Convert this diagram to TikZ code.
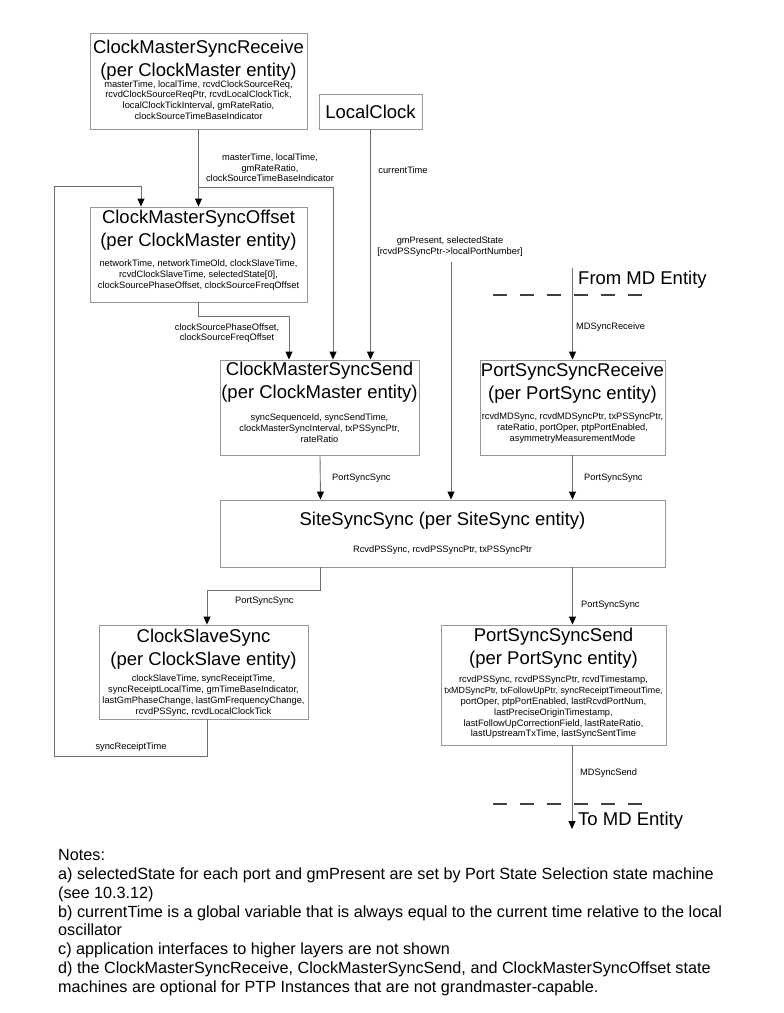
\documentclass[tikz,border=0pt]{standalone}
\usepackage{fontspec}
\setmainfont{Liberation Sans}
\usetikzlibrary{arrows.meta}
\definecolor{boxgray}{RGB}{150,150,150}
\definecolor{linegray}{RGB}{110,110,110}
\begin{document}
\begin{tikzpicture}[x=1pt,y=-1pt,
  boxn/.style={draw=boxgray, line width=0.9pt, inner sep=0pt, fill=white},
  ttl/.style={font=\fontsize{18.5}{23}\selectfont, align=center, inner sep=0pt},
  det/.style={font=\fontsize{9.3}{10.8}\selectfont, align=center, inner sep=0pt},
  lbl/.style={font=\fontsize{9.3}{10.6}\selectfont, align=center, inner sep=0pt},
  note/.style={font=\fontsize{16.2}{18.9}\selectfont, align=left, inner sep=0pt},
  conn/.style={draw=linegray, line width=0.9pt},
  arr/.style={conn, -{Triangle[width=7pt,length=8pt,color=black]}},
  dashline/.style={draw=black!75, line width=1.2pt, dash pattern=on 14pt off 13pt}
]
\useasboundingbox (0,0) rectangle (784,1013);

% boxes
\node[boxn, minimum width=217pt, minimum height=96pt] (cmsr) at (198.5,81) {};
\node[boxn, minimum width=103pt, minimum height=35pt] (lc) at (370.5,111.5) {};
\node[boxn, minimum width=217pt, minimum height=95pt] (cmso) at (198.5,254.5) {};
\node[boxn, minimum width=199pt, minimum height=95pt] (cmss) at (319.5,407.5) {};
\node[boxn, minimum width=185pt, minimum height=95pt] (psr) at (572.5,407.5) {};
\node[boxn, minimum width=445pt, minimum height=67pt] (sss) at (442.5,533.5) {};
\node[boxn, minimum width=209pt, minimum height=94pt] (css) at (203.5,672) {};
\node[boxn, minimum width=225pt, minimum height=120pt] (psss) at (553.5,685) {};

% box texts
\node[ttl] (cmsr-t) at (198.5,60) {ClockMasterSyncReceive\\(per ClockMaster entity)};
\node[det] (cmsr-d) at (198.5,100) {masterTime, localTime, rcvdClockSourceReq,\\rcvdClockSourceReqPtr, rcvdLocalClockTick,\\localClockTickInterval, gmRateRatio,\\clockSourceTimeBaseIndicator};
\node[ttl] (lc-t) at (370.5,112) {LocalClock};
\node[ttl] (cmso-t) at (198.5,230) {ClockMasterSyncOffset\\(per ClockMaster entity)};
\node[det] (cmso-d) at (198.5,275) {networkTime, networkTimeOld, clockSlaveTime,\\rcvdClockSlaveTime, selectedState[0],\\clockSourcePhaseOffset, clockSourceFreqOffset};
\node[ttl] (cmss-t) at (319.5,382) {ClockMasterSyncSend\\(per ClockMaster entity)};
\node[det] (cmss-d) at (319.5,428) {syncSequenceId, syncSendTime,\\clockMasterSyncInterval, txPSSyncPtr,\\rateRatio};
\node[ttl] (psr-t) at (572.5,383.5) {PortSyncSyncReceive\\(per PortSync entity)};
\node[det] (psr-d) at (572.5,428) {rcvdMDSync, rcvdMDSyncPtr, txPSSyncPtr,\\rateRatio, portOper, ptpPortEnabled,\\asymmetryMeasurementMode};
\node[ttl] (sss-t) at (442.5,521) {SiteSyncSync (per SiteSync entity)};
\node[det] (sss-d) at (442.5,550) {RcvdPSSync, rcvdPSSyncPtr, txPSSyncPtr};
\node[ttl] (css-t) at (203.5,649.5) {ClockSlaveSync\\(per ClockSlave entity)};
\node[det] (css-d) at (203.5,695.5) {clockSlaveTime, syncReceiptTime,\\syncReceiptLocalTime, gmTimeBaseIndicator,\\lastGmPhaseChange, lastGmFrequencyChange,\\rcvdPSSync, rcvdLocalClockTick};
\node[ttl] (psss-t) at (553.5,648.5) {PortSyncSyncSend\\(per PortSync entity)};
\node[det] (psss-d) at (553.5,707.5) {rcvdPSSync, rcvdPSSyncPtr, rcvdTimestamp,\\{\fontsize{8.9}{10.8}\selectfont txMDSyncPtr, txFollowUpPtr, syncReceiptTimeoutTime,}\\portOper, ptpPortEnabled, lastRcvdPortNum,\\lastPreciseOriginTimestamp,\\lastFollowUpCorrectionField, lastRateRatio,\\lastUpstreamTxTime, lastSyncSentTime};

% coordinates for free ends
\coordinate (br) at (198.5,187);
\coordinate (lpA) at (54,756);
\coordinate (lpB) at (54,186);
\coordinate (gmtop) at (451,262);
\coordinate (mdtop) at (572.5,268);
\coordinate (mdbot) at (572,829);

% connectors
\draw[arr] (cmsr.south) -- (cmso.north);
\draw[arr] (br) -| ([xshift=13.5pt]cmss.north);
\draw[arr] (lc.south) -- (lc.south |- cmss.north);
\draw[arr] ([xshift=3.5pt]css.south) |- (lpA) -- (lpB) -| ([xshift=-57.5pt]cmso.north);
\draw[arr] (cmso.south) -- ++(0,14) -| ([xshift=-30.5pt]cmss.north);
\draw[arr] (gmtop) -- (gmtop |- sss.north);
\draw[arr] (mdtop) -- (psr.north);
\draw[arr] ([xshift=0.5pt]cmss.south) -- ([xshift=-122pt]sss.north);
\draw[arr] (psr.south) -- ([xshift=130pt]sss.north);
\draw[arr] ([xshift=-122pt]sss.south) -- ++(0,23) -| ([xshift=3.5pt]css.north);
\draw[arr] ([xshift=130pt]sss.south) -- ([xshift=19pt]psss.north);
\draw[arr] ([xshift=18.5pt]psss.south) -- (mdbot);

% MD entity dashed boundaries
\coordinate (dA1) at (493,295);
\coordinate (dA2) at (648,295);
\coordinate (dB1) at (493,804);
\coordinate (dB2) at (648,804);
\draw[dashline] (dA1) -- (dA2);
\draw[dashline] (dB1) -- (dB2);

% labels
\node[lbl] (l1) at (270,168) {masterTime, localTime,\\gmRateRatio,\\clockSourceTimeBaseIndicator};
\node[lbl] (l2) at (403,170) {currentTime};
\node[lbl] (l3) at (227,333) {clockSourcePhaseOffset,\\clockSourceFreqOffset};
\node[lbl] (l4) at (450,246.5) {gmPresent, selectedState\\{[}rcvdPSSyncPtr->localPortNumber{]}};
\node[lbl, anchor=west] (l5) at (576,327) {MDSyncReceive};
\node[ttl, anchor=west] (l6) at (578,280) {From MD Entity};
\node[lbl, anchor=west] (l7) at (332,478) {PortSyncSync};
\node[lbl, anchor=west] (l8) at (584,478) {PortSyncSync};
\node[lbl, anchor=west] (l9) at (235,601) {PortSyncSync};
\node[lbl, anchor=west] (l10) at (581,605) {PortSyncSync};
\node[lbl, anchor=west] (l11) at (580,773) {MDSyncSend};
\node[ttl, anchor=west] (l12) at (578,821) {To MD Entity};
\node[lbl] (l13) at (131,747) {syncReceiptTime};

% notes
\node[note, anchor=north west] (notes) at (58,849) {Notes:\\
a) selectedState for each port and gmPresent are set by Port State Selection state machine\\
(see 10.3.12)\\
b) currentTime is a global variable that is always equal to the current time relative to the local\\
oscillator\\
c) application interfaces to higher layers are not shown\\
d) the ClockMasterSyncReceive, ClockMasterSyncSend, and ClockMasterSyncOffset state\\
machines are optional for PTP Instances that are not grandmaster-capable.};
\end{tikzpicture}
\end{document}
